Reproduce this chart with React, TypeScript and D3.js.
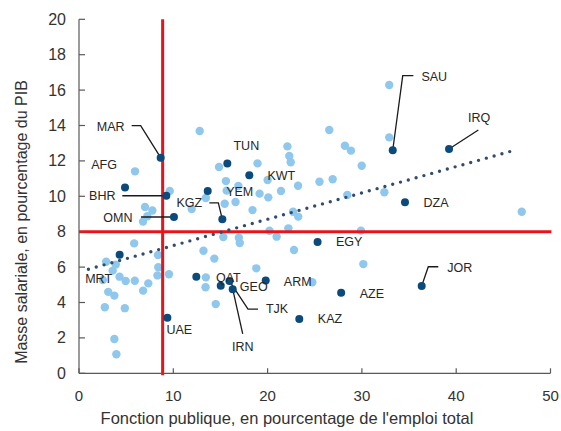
import React from 'react';
import * as d3 from 'd3';

// light points: other countries (x = civil service % of total employment, y = wage bill % of GDP)
const otherX = [12.8, 5.94, 9.62, 13.45, 11.95, 7.0, 7.78, 7.25, 6.79, 14.85, 18.93, 22.1, 22.3, 22.45, 15.58, 20.0, 21.42, 23.23, 25.5, 19.15, 20.07, 26.54, 28.2, 28.84, 26.9, 16.9, 15.66, 16.6, 15.45, 28.45, 18.4, 22.7, 23.25, 20.2, 22.2, 20.96, 22.8, 15.3, 16.95, 17.05, 13.2, 14.35, 18.8, 13.45, 13.42, 14.5, 5.85, 8.38, 8.41, 8.32, 9.54, 7.35, 6.8, 5.92, 4.95, 4.3, 3.9, 2.88, 3.57, 2.53, 3.1, 3.75, 2.74, 4.86, 3.75, 3.96, 24.74, 32.38, 29.9, 30.15, 46.95, 32.9, 32.9, 29.98];
const otherY = [13.69, 11.41, 10.3, 9.9, 9.28, 9.4, 9.2, 8.87, 8.57, 11.66, 11.86, 12.82, 12.28, 11.92, 10.86, 10.92, 10.3, 10.6, 10.82, 10.15, 9.94, 13.75, 12.86, 12.58, 10.96, 10.58, 10.32, 9.68, 9.58, 10.07, 9.22, 9.13, 8.85, 8.05, 8.19, 7.72, 6.97, 7.7, 7.66, 7.36, 6.92, 6.48, 5.93, 5.42, 4.86, 3.91, 7.34, 6.68, 5.99, 5.53, 5.6, 5.08, 4.67, 5.23, 5.22, 5.46, 6.14, 6.3, 5.8, 5.27, 4.6, 4.39, 3.73, 3.68, 1.94, 1.08, 5.14, 10.23, 8.06, 6.17, 9.13, 16.29, 13.33, 11.73];

// dark points: MENA/CCA countries
const codes = ['MAR', 'AFG', 'BHR', 'OMN', 'KGZ', 'TUN', 'KWT', 'YEM', 'QAT', 'GEO', 'TJK', 'IRN', 'ARM', 'UAE', 'MRT', 'EGY', 'AZE', 'KAZ', 'DZA', 'JOR', 'SAU', 'IRQ'];
const regionX = [8.66, 4.88, 9.26, 10.07, 15.2, 15.73, 18.06, 13.65, 12.44, 15.03, 15.96, 16.3, 19.8, 9.37, 4.31, 25.3, 27.8, 23.36, 34.57, 36.34, 33.27, 39.24];
const regionY = [12.18, 10.5, 10.03, 8.83, 8.7, 11.86, 11.19, 10.3, 5.46, 4.95, 5.21, 4.75, 5.24, 3.14, 6.7, 7.42, 4.55, 3.07, 9.66, 4.93, 12.6, 12.67];

// reference lines and fitted trend
const medianX = 8.87;
const medianY = 8;
const trendX = [1, 46.05];
const trendY = [5.88, 12.58];

const xTicks = [0, 10, 20, 30, 40, 50];
const yTicks = [0, 2, 4, 6, 8, 10, 12, 14, 16, 18, 20];

// label placement (pixel offsets from the point) and leader lines
const labelPos: Record<string, [number, number]> = {
  MAR: [-50, -31], AFG: [-21, -22.5], BHR: [-64, 0], OMN: [-56, 1], KGZ: [-33, -16],
  TUN: [19, -17], KWT: [32, 1], YEM: [32, 1.5], QAT: [32, 1], GEO: [33, 1],
  TJK: [47.5, 28], IRN: [10, 58], ARM: [32, 1.5], UAE: [12, 12.5], MRT: [-21, 24],
  EGY: [31.5, 0.5], AZE: [30.7, 1], KAZ: [30.7, 0], DZA: [31, 1], JOR: [38, -18.5],
  SAU: [41.5, -73.6], IRQ: [30, -31.5],
};
const leaders: Record<string, [number, number][]> = {
  MAR: [[-29, -32], [-20, -32], [0, 0]],
  BHR: [[-44, 0], [0, 0]],
  OMN: [[-33, 0], [0, 0]],
  KGZ: [[-13, -16.5], [-4, -16.5], [0, 0]],
  TJK: [[28.5, 28], [18.5, 28], [0, 0]],
  IRN: [[10, 44.7], [0, 0]],
  JOR: [[16.6, -19.3], [6.6, -19.3], [0, 0]],
  SAU: [[20.6, -74.6], [10, -74.6], [0, 0]],
  IRQ: [[29.3, -19], [0, 0]],
};

const W = 561;
const H = 431;
const margin = { top: 19.3, right: 10.5, bottom: 57.7, left: 79 };

export default function App() {
  const x = d3.scaleLinear().domain([0, 50]).range([margin.left, W - margin.right]);
  const y = d3.scaleLinear().domain([0, 20]).range([H - margin.bottom, margin.top]);
  const font = '"Liberation Sans", Arial, sans-serif';
  const line = d3.line<[number, number]>();

  const x0 = x(0), y0 = y(0);

  return (
    <div style={{ position: 'absolute', left: 0, top: 0 }}>
      <svg width={W} height={H} style={{ display: 'block', background: '#fff' }} fontFamily={font}>
        {/* light points */}
        {otherX.map((v, i) => (
          <circle key={'o' + i} cx={x(v)} cy={y(otherY[i])} r={4.2} fill="#8fc8ec" />
        ))}

        {/* red reference lines */}
        <line x1={x(medianX)} x2={x(medianX)} y1={y(20)} y2={y0 + 2} stroke="#e8141c" strokeWidth={3} />
        <line x1={x0} x2={x(50.1)} y1={y(medianY)} y2={y(medianY)} stroke="#e8141c" strokeWidth={3} />

        {/* trend line */}
        <path
          d={line(trendX.map((v, i) => [x(v), y(trendY[i])]) as [number, number][]) || ''}
          fill="none"
          stroke="#324d6c"
          strokeWidth={3.4}
          strokeDasharray="0 8.1"
          strokeLinecap="round"
        />

        {/* leaders */}
        {codes.map((c, i) => leaders[c] ? (
          <path
            key={'l' + c}
            d={line(leaders[c].map(([dx, dy]) => [x(regionX[i]) + dx, y(regionY[i]) + dy])) || ''}
            fill="none"
            stroke="#1a1a1a"
            strokeWidth={1.3}
          />
        ) : null)}

        {/* dark points */}
        {codes.map((c, i) => (
          <circle key={'r' + c} cx={x(regionX[i])} cy={y(regionY[i])} r={4} fill="#0b4a7b" />
        ))}

        {/* labels */}
        {codes.map((c, i) => (
          <text
            key={'t' + c}
            x={x(regionX[i]) + labelPos[c][0]}
            y={y(regionY[i]) + labelPos[c][1]}
            textAnchor="middle"
            dominantBaseline="central"
            fontSize={12.5}
            fill="#262626"
          >
            {c}
          </text>
        ))}

        {/* axes */}
        <g stroke="#595959" strokeWidth={1.2}>
          <line x1={x0} x2={x0} y1={y(20)} y2={y0} />
          <line x1={x0} x2={x(50)} y1={y0} y2={y0} />
          {yTicks.map(t => (
            <line key={'yt' + t} x1={x0} x2={x0 + 6} y1={y(t)} y2={y(t)} />
          ))}
          {xTicks.map(t => (
            <line key={'xt' + t} x1={x(t)} x2={x(t)} y1={y0} y2={y0 - 5} />
          ))}
        </g>
        {yTicks.map(t => (
          <text key={'yl' + t} x={x0 - 13} y={y(t)} textAnchor="end" dominantBaseline="central" fontSize={16} fill="#333">
            {t}
          </text>
        ))}
        {xTicks.map(t => (
          <text key={'xl' + t} x={x(t)} y={y0 + 22} textAnchor="middle" dominantBaseline="central" fontSize={15} fill="#333">
            {t}
          </text>
        ))}

        {/* axis titles */}
        <text x={287} y={418} textAnchor="middle" dominantBaseline="central" fontSize={16.5} fill="#333">
          Fonction publique, en pourcentage de l'emploi total
        </text>
        <text
          transform={`translate(21, 222) rotate(-90)`}
          textAnchor="middle"
          dominantBaseline="central"
          fontSize={16}
          fill="#333"
        >
          Masse salariale, en pourcentage du PIB
        </text>
      </svg>
    </div>
  );
}
